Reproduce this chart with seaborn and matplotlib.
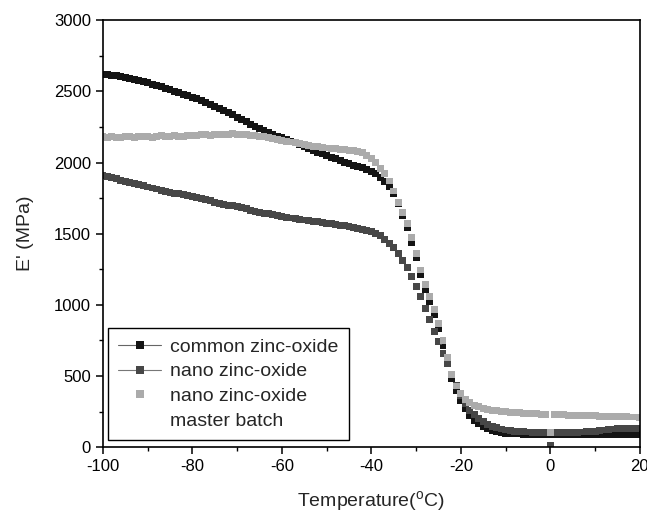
import pandas as pd
import seaborn as sns
import matplotlib.pyplot as plt
from matplotlib.lines import Line2D
from matplotlib.ticker import MultipleLocator

# temperature grid of the DMA scan (deg C)
temperature = [
    -100, -99, -98, -97, -96, -95, -94, -93, -92, -91,
    -90, -89, -88, -87, -86, -85, -84, -83, -82, -81,
    -80, -79, -78, -77, -76, -75, -74, -73, -72, -71,
    -70, -69, -68, -67, -66, -65, -64, -63, -62, -61,
    -60, -59, -58, -57, -56, -55, -54, -53, -52, -51,
    -50, -49, -48, -47, -46, -45, -44, -43, -42, -41,
    -40, -39, -38, -37, -36, -35, -34, -33, -32, -31,
    -30, -29, -28, -27, -26, -25, -24, -23, -22, -21,
    -20, -19, -18, -17, -16, -15, -14, -13, -12, -11,
    -10, -9, -8, -7, -6, -5, -4, -3, -2, -1,
    0, 1, 2, 3, 4, 5, 6, 7, 8, 9,
    10, 11, 12, 13, 14, 15, 16, 17, 18, 19,
    20,
]

# storage modulus E' (MPa)
common_zno = [
    2620, 2617, 2613, 2608, 2603, 2597, 2591, 2584, 2577, 2569,
    2560, 2551, 2542, 2532, 2522, 2512, 2502, 2492, 2481, 2470,
    2459, 2447, 2435, 2422, 2409, 2395, 2381, 2366, 2350, 2334,
    2318, 2302, 2285, 2268, 2252, 2237, 2223, 2210, 2198, 2186,
    2174, 2162, 2150, 2138, 2125, 2112, 2099, 2086, 2073, 2060,
    2047, 2036, 2025, 2014, 2003, 1992, 1982, 1972, 1962, 1952,
    1940, 1922, 1892, 1865, 1830, 1780, 1710, 1630, 1540, 1440,
    1330, 1215, 1110, 1025, 935, 835, 715, 595, 485, 400,
    330, 272, 225, 190, 163, 143, 128, 117, 109, 103,
    99, 96, 94, 93, 92, 91, 91, 90, 90, 90,
    90, 90, 90, 90, 90, 90, 90, 90, 90, 90,
    90, 90, 90, 90, 89, 89, 89, 89, 89, 89,
    89,
]

nano_zno = [
    1912, 1903, 1894, 1885, 1876, 1868, 1860, 1852, 1844, 1836,
    1828, 1821, 1814, 1806, 1799, 1792, 1785, 1779, 1772, 1766,
    1760, 1752, 1745, 1737, 1730, 1722, 1715, 1708, 1701, 1695,
    1688, 1681, 1674, 1666, 1659, 1652, 1645, 1639, 1632, 1626,
    1620, 1615, 1610, 1605, 1600, 1596, 1592, 1587, 1583, 1578,
    1574, 1569, 1565, 1560, 1555, 1550, 1545, 1539, 1532, 1524,
    1515, 1503, 1488, 1462, 1430, 1400, 1360, 1310, 1260, 1200,
    1130, 1060, 975, 900, 815, 740, 660, 590, 510, 435,
    365, 305, 260, 230, 203, 180, 162, 148, 137, 128,
    121, 116, 112, 110, 108, 107, 106, 105, 105, 105,
    15, 104, 104, 105, 105, 106, 106, 107, 108, 110,
    113, 117, 121, 125, 128, 130, 132, 133, 134, 134,
    135,
]

nano_zno_mb = [
    2180, 2176, 2183, 2179, 2175, 2182, 2185, 2178, 2183, 2186,
    2181, 2177, 2184, 2187, 2182, 2185, 2190, 2185, 2182, 2188,
    2192, 2188, 2194, 2197, 2192, 2196, 2199, 2194, 2198, 2201,
    2197, 2200, 2196, 2192, 2189, 2185, 2180, 2174, 2168, 2161,
    2155, 2150, 2144, 2139, 2133, 2127, 2121, 2115, 2110, 2105,
    2102, 2099, 2096, 2093, 2090, 2086, 2082, 2076, 2068, 2052,
    2030, 2000, 1960, 1920, 1870, 1800, 1720, 1650, 1570, 1470,
    1360, 1245, 1140, 1060, 970, 870, 750, 630, 510, 430,
    375, 338, 312, 295, 283, 274, 266, 260, 255, 251,
    248, 245, 243, 241, 239, 237, 236, 234, 233, 231,
    105, 229, 228, 227, 226, 225, 224, 223, 222, 221,
    220, 219, 218, 217, 216, 215, 214, 213, 212, 212,
    211,
]

labels = ['common zinc-oxide', 'nano zinc-oxide', 'nano zinc-oxide master batch']
colors = ['#141414', '#474747', '#ababab']

df = pd.concat([
    pd.DataFrame({'T': temperature, 'E': vals, 'sample': lab})
    for vals, lab in zip([common_zno, nano_zno, nano_zno_mb], labels)
], ignore_index=True)

sns.set_theme(style='ticks')
plt.rcParams['font.family'] = ['Liberation Sans', 'DejaVu Sans']
plt.rcParams['mathtext.fontset'] = 'custom'
plt.rcParams['mathtext.rm'] = 'Liberation Sans'
plt.rcParams['axes.unicode_minus'] = False

fig = plt.figure(figsize=(6.47, 5.17), dpi=100)
ax = fig.add_axes([0.159, 0.135, 0.83, 0.826])
sns.scatterplot(
    data=df, x='T', y='E', hue='sample',
    palette=dict(zip(labels, colors)),
    marker='s', s=25, linewidth=0, legend=False, ax=ax,
)

ax.set_xlim(-100, 20)
ax.set_ylim(0, 3000)
ax.xaxis.set_major_locator(MultipleLocator(20))
ax.xaxis.set_minor_locator(MultipleLocator(10))
ax.yaxis.set_major_locator(MultipleLocator(500))
ax.yaxis.set_minor_locator(MultipleLocator(250))
ax.tick_params(which='major', direction='out', length=5, width=1.1,
               labelsize=12, color='black', labelcolor='black')
ax.tick_params(which='minor', direction='out', length=3, width=1.0, color='black')
for sp in ax.spines.values():
    sp.set_linewidth(1.2)
    sp.set_color('black')

ax.set_xlabel(r'Temperature($\mathregular{^o}$C)', fontsize=14, labelpad=11)
ax.set_ylabel("E' (MPa)", fontsize=14, labelpad=14)

# legend: line+symbol for the first two, symbol only for the master batch,
# whose label wraps onto a second row
handles = [
    Line2D([], [], color='#666666', lw=0.8, marker='s', markersize=5.5,
           markerfacecolor=colors[0], markeredgewidth=0),
    Line2D([], [], color='#777777', lw=0.8, marker='s', markersize=5.5,
           markerfacecolor=colors[1], markeredgewidth=0),
    Line2D([], [], lw=0, marker='s', markersize=5.5,
           markerfacecolor=colors[2], markeredgewidth=0),
    Line2D([], [], lw=0, marker=None),
]
leg_labels = ['common zinc-oxide', 'nano zinc-oxide', 'nano zinc-oxide', 'master batch']
leg = ax.legend(handles=handles, labels=leg_labels, loc='lower left',
                bbox_to_anchor=(0.009, 0.016), borderaxespad=0,
                fontsize=14, handlelength=2.2, handletextpad=0.45,
                borderpad=0.55, labelspacing=0.36, fancybox=False,
                frameon=True, framealpha=1)
leg.get_frame().set_edgecolor('black')
leg.get_frame().set_linewidth(1.0)

fig.savefig('out.png', dpi=100)
